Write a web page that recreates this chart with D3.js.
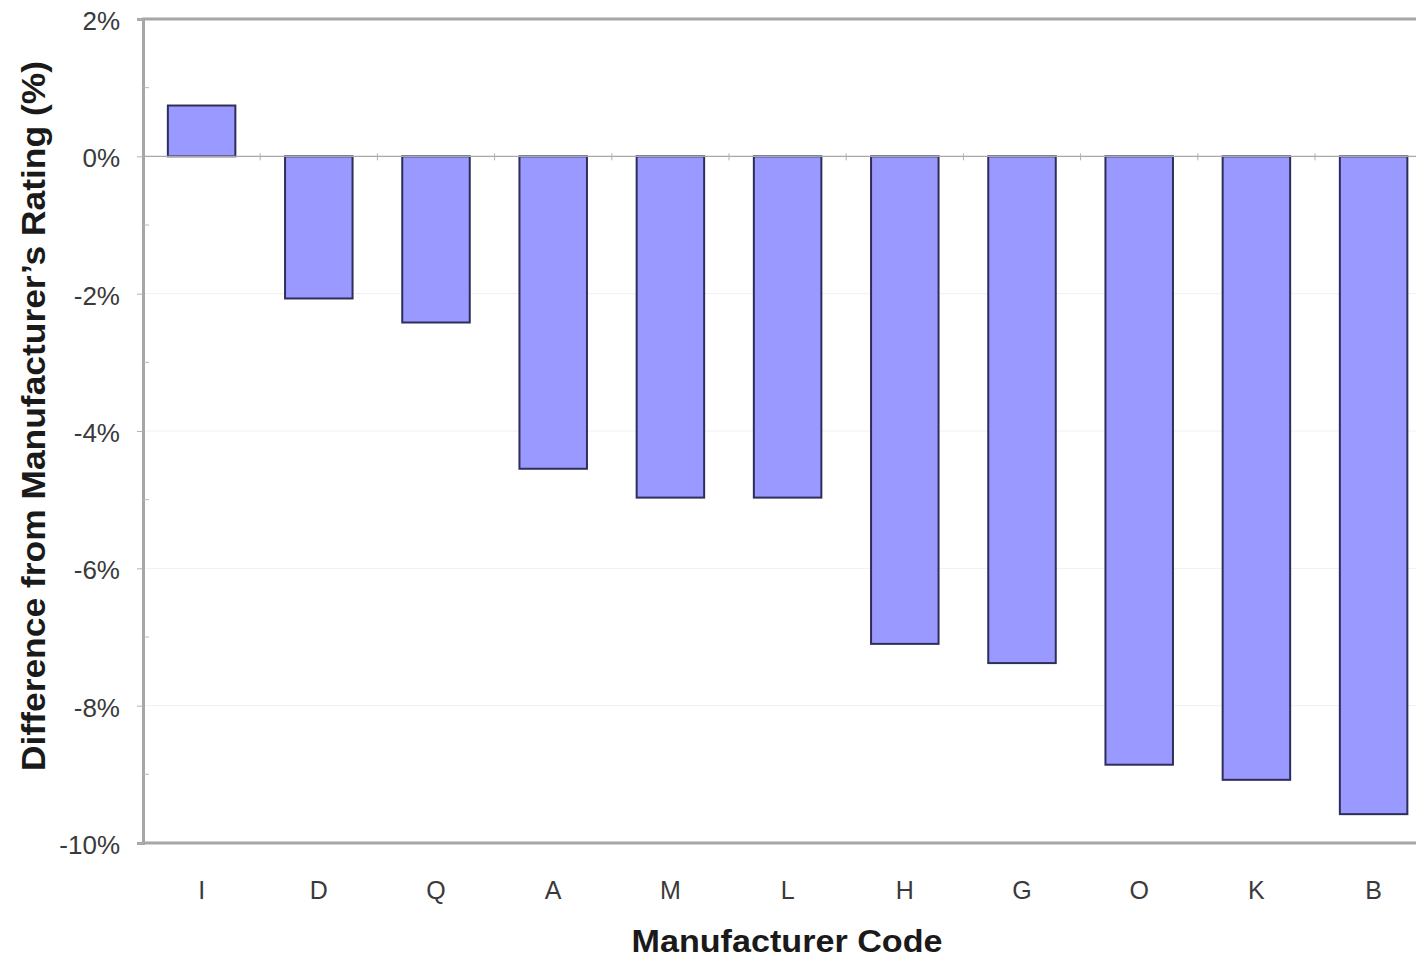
<!DOCTYPE html>
<html>
<head>
<meta charset="utf-8">
<script src="https://cdn.jsdelivr.net/npm/d3@7"></script>
<style>
  html, body { margin: 0; padding: 0; background: #fff; overflow: hidden; }
  svg { display: block; }
  text { font-family: "Liberation Sans", Arial, Helvetica, sans-serif; }
</style>
</head>
<body>
<svg id="chart" width="1416" height="958"></svg>
<script>
const categories = ["I", "D", "Q", "A", "M", "L", "H", "G", "O", "K", "B"];
const values = [0.74, -2.07, -2.42, -4.55, -4.97, -4.97, -7.10, -7.38, -8.86, -9.08, -9.58];
const yTicks = [2, 0, -2, -4, -6, -8, -10];
const yMinorTicks = [1, -1, -3, -5, -7, -9];
const xTitle = "Manufacturer Code";
const yTitle = "Difference from Manufacturer\u2019s Rating (%)";

(function () {
const svg = d3.select("#chart");
const pLeft = 143, pTop = 19, pBottom = 843;
const step = 117.2;
const pRight = pLeft + step * categories.length;

const x = d3.scaleBand().domain(categories).range([pLeft, pRight]).paddingInner(0.424).paddingOuter(0.212);
const y = d3.scaleLinear().domain([-10, 2]).range([pBottom, pTop]);

// faint gridlines
svg.append("g").selectAll("line").data(yTicks.filter(d => d !== 2 && d !== -10 && d !== 0)).join("line")
  .attr("x1", pLeft).attr("x2", pRight)
  .attr("y1", d => y(d)).attr("y2", d => y(d))
  .attr("stroke", "#f0f0f0").attr("stroke-width", 1);

// bars
svg.append("g").selectAll("rect").data(categories).join("rect")
  .attr("x", (d) => x(d))
  .attr("width", x.bandwidth())
  .attr("y", (d, i) => y(Math.max(0, values[i])))
  .attr("height", (d, i) => Math.abs(y(values[i]) - y(0)))
  .attr("fill", "#9999ff")
  .attr("stroke", "#2e2e5a")
  .attr("stroke-width", 2);

// zero line with category ticks
svg.append("line").attr("x1", pLeft).attr("x2", pRight)
  .attr("y1", y(0)).attr("y2", y(0))
  .attr("stroke", "#a8a8a8").attr("stroke-width", 1.2);
const boundaries = d3.range(1, categories.length).map(i => x(categories[i]) - x.step() * x.paddingInner() / 2);
svg.append("g").selectAll("line").data(boundaries).join("line")
  .attr("x1", d => d).attr("x2", d => d)
  .attr("y1", y(0) - 3).attr("y2", y(0) + 4)
  .attr("stroke", "#b0b0b0").attr("stroke-width", 1);

// frame: top & bottom
svg.append("line").attr("x1", pLeft - 1).attr("x2", pRight).attr("y1", pTop).attr("y2", pTop)
  .attr("stroke", "#a6a6a6").attr("stroke-width", 3);
svg.append("line").attr("x1", pLeft - 1).attr("x2", pRight).attr("y1", pBottom).attr("y2", pBottom)
  .attr("stroke", "#a6a6a6").attr("stroke-width", 3);

// y axis
const yAxis = d3.axisLeft(y).tickValues(yTicks).tickFormat(d => d + "%").tickSize(6).tickPadding(17);
const gy = svg.append("g").attr("transform", `translate(${pLeft},0)`).call(yAxis);
gy.select(".domain").attr("stroke", "#a6a6a6").attr("stroke-width", 3);
gy.selectAll(".tick line").attr("stroke", "#b0b0b0").attr("stroke-width", 1);
gy.selectAll(".tick text").attr("fill", "#3a3a3a").style("font-size", "26px")
  .attr("dy", "0.4em")
  .attr("font-family", "'Liberation Sans', Arial, sans-serif");
svg.append("g").selectAll("line").data(yMinorTicks).join("line")
  .attr("x1", pLeft).attr("x2", pLeft + 6)
  .attr("y1", d => y(d)).attr("y2", d => y(d))
  .attr("stroke", "#b8b8b8").attr("stroke-width", 1);

// x labels
const xAxis = d3.axisBottom(x).tickSize(0).tickPadding(0);
const gx = svg.append("g").attr("transform", `translate(0,${pBottom})`).call(xAxis);
gx.select(".domain").remove();
gx.selectAll(".tick text").attr("fill", "#3a3a3a").style("font-size", "25px")
  .attr("dy", "56").attr("font-family", "'Liberation Sans', Arial, sans-serif");

// titles
svg.append("text").attr("x", 787).attr("y", 952).attr("text-anchor", "middle")
  .attr("font-weight", "bold").style("font-size", "32px").attr("fill", "#1a1a1a")
  .attr("textLength", 311).attr("lengthAdjust", "spacingAndGlyphs")
  .text(xTitle);
svg.append("text").attr("transform", `translate(45,416) rotate(-90)`).attr("text-anchor", "middle")
  .attr("font-weight", "bold").style("font-size", "33px").attr("fill", "#1a1a1a")
  .attr("textLength", 710).attr("lengthAdjust", "spacingAndGlyphs")
  .text(yTitle);
})();
</script>
</body>
</html>
